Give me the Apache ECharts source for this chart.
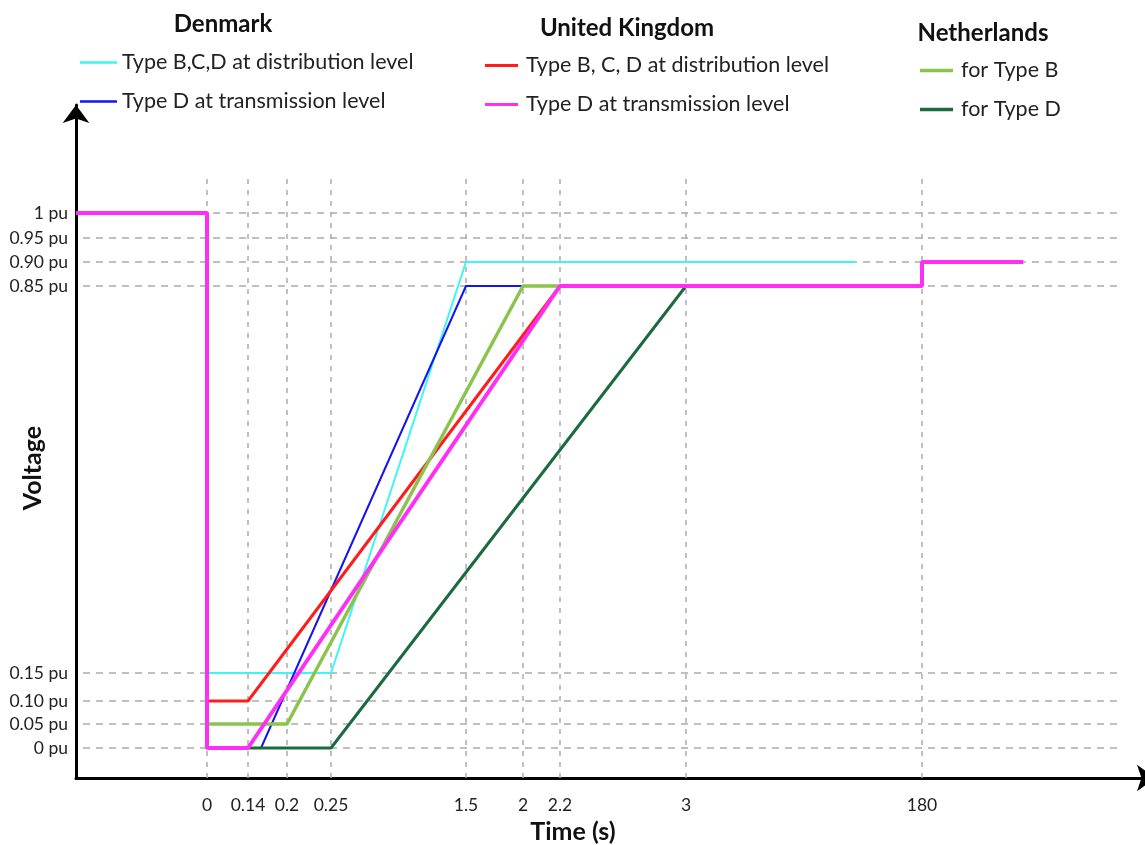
<!DOCTYPE html>
<html>
<head>
<meta charset="utf-8">
<script src="https://cdn.jsdelivr.net/npm/echarts@6/dist/echarts.min.js"></script>
<style>html,body{margin:0;padding:0;background:#fff;}#c{width:1145px;height:845px;}</style>
</head>
<body>
<div id="c"></div>
<script>
// ---- Axis ticks (schematic, non-proportional time axis) ----
var xTickTimes = [0, 0.14, 0.2, 0.25, 1.5, 2, 2.2, 3, 180];
var xTickLabels = ['0', '0.14', '0.2', '0.25', '1.5', '2', '2.2', '3', '180'];
var yTickValues = [0, 0.05, 0.10, 0.15, 0.85, 0.90, 0.95, 1];
var yTickLabels = ['0 pu', '0.05 pu', '0.10 pu', '0.15 pu', '0.85 pu', '0.90 pu', '0.95 pu', '1 pu'];

// ---- Series data: [time (s), voltage (pu)] ----
var dkDistribution = [[-0.45, 1], [0, 1], [0, 0.15], [0.25, 0.15], [1.5, 0.90], [130, 0.90]];
var dkTransmission = [[-0.45, 1], [0, 1], [0, 0], [0.16, 0], [1.5, 0.85], [3, 0.85]];
var ukDistribution = [[-0.45, 1], [0, 1], [0, 0.10], [0.14, 0.10], [2.2, 0.85], [3, 0.85]];
var nlTypeB = [[-0.45, 1], [0, 1], [0, 0.05], [0.2, 0.05], [2, 0.85], [3, 0.85]];
var nlTypeD = [[-0.45, 1], [0, 1], [0, 0], [0.25, 0], [3, 0.85]];
var ukTransmission = [[-0.45, 1], [0, 1], [0, 0], [0.14, 0], [2.2, 0.85], [180, 0.85], [180, 0.90], [256, 0.90]];

// ---- Schematic axis layout (where each tick sits along the axis) ----
var xTickSlots = [131, 172, 211, 255, 390, 447, 484, 610, 846];
var yTickSlots = [30, 54, 77, 105, 492, 516, 540, 565];
var X_MAX = 1079, Y_MAX = 673;

function interp(v, keys, slots) {
  var n = keys.length, i;
  if (v <= keys[0]) i = 0;
  else if (v >= keys[n - 1]) i = n - 2;
  else { for (i = 0; i < n - 1; i++) if (v >= keys[i] && v <= keys[i + 1]) break; }
  var k0 = keys[i], k1 = keys[i + 1], s0 = slots[i], s1 = slots[i + 1];
  return s0 + (v - k0) * (s1 - s0) / (k1 - k0);
}
function toX(t) { return Math.max(0, Math.min(X_MAX, interp(t, xTickTimes, xTickSlots))); }
function toY(u) { return interp(u, yTickValues, yTickSlots); }
function mapData(arr) { return arr.map(function (p) { return [toX(p[0]), toY(p[1])]; }); }

// dashed reference lines at every tick
var gridLines = [];
yTickSlots.forEach(function (s) { gridLines.push({ coords: [[7, s], [1044, s]] }); });
var vLines = [];
xTickSlots.forEach(function (s) { vLines.push({ coords: [[s, 0], [s, 601]] }); });

var FONT = 'Lato';
function lineSeries(name, data, color, width) {
  return {
    name: name, type: 'line', data: mapData(data), symbol: 'none', z: 3,
    lineStyle: { color: color, width: width }, itemStyle: { color: color },
    emphasis: { disabled: true }, animation: false
  };
}

var chart = echarts.init(document.getElementById('c'), null, { renderer: 'canvas' });
function legend(left, top, w, h, pad, data) {
  return {
    orient: 'vertical', left: left, top: top, icon: 'rect',
    itemWidth: w, itemHeight: h, itemGap: 17,
    textStyle: { fontFamily: FONT, fontSize: 21.5, color: '#222', lineHeight: 21, padding: [0, 0, 0, pad] },
    selectedMode: false, data: data,
    formatter: function (n) { return n.split(' | ')[1]; }
  };
}
chart.setOption({
  backgroundColor: '#fff',
  animation: false,
  grid: { left: 76, right: -10, top: 105, bottom: 67, containLabel: false, outerBoundsMode: 'none' },
  graphic: [
    { type: 'text', x: 223, y: 24, style: { text: 'Denmark', font: 'bold 24px ' + FONT, fill: '#111', textAlign: 'center', textVerticalAlign: 'middle' } },
    { type: 'text', x: 627, y: 28, style: { text: 'United Kingdom', font: 'bold 24px ' + FONT, fill: '#111', textAlign: 'center', textVerticalAlign: 'middle' } },
    { type: 'text', x: 983, y: 33, style: { text: 'Netherlands', font: 'bold 24px ' + FONT, fill: '#111', textAlign: 'center', textVerticalAlign: 'middle' } }
  ],
  legend: [
    legend(75, 46.5, 37, 2.5, 0, ['Denmark | Type B,C,D at distribution level', 'Denmark | Type D at transmission level']),
    legend(480, 49.5, 33, 3, 3, ['United Kingdom | Type B, C, D at distribution level', 'United Kingdom | Type D at transmission level']),
    legend(915, 54.5, 33, 3.5, 3, ['Netherlands | for Type B', 'Netherlands | for Type D'])
  ],
  xAxis: {
    type: 'value', min: 0, max: X_MAX,
    name: 'Time (s)', nameLocation: 'middle', nameGap: 41, nameMoveOverlap: false,
    nameTextStyle: { fontFamily: FONT, fontSize: 25, fontWeight: 'bold', color: '#111', padding: [0, 85, 0, 0] },
    axisLine: { lineStyle: { color: '#000', width: 3 }, symbol: ['none', 'arrow'], symbolSize: [20, 18] },
    axisTick: { show: false }, splitLine: { show: false },
    axisLabel: {
      customValues: xTickSlots, margin: 18,
      fontFamily: FONT, fontSize: 17.5, color: '#222',
      formatter: function (v) { var i = xTickSlots.indexOf(v); return i >= 0 ? xTickLabels[i] : ''; }
    }
  },
  yAxis: {
    type: 'value', min: 0, max: Y_MAX,
    name: 'Voltage', nameLocation: 'middle', nameGap: 31, nameRotate: 90, nameMoveOverlap: false,
    nameTextStyle: { fontFamily: FONT, fontSize: 25, fontWeight: 'bold', color: '#111', padding: [0, 53, 0, 0] },
    axisLine: { lineStyle: { color: '#000', width: 3 }, symbol: ['none', 'arrow'], symbolSize: [20, 18] },
    axisTick: { show: false }, splitLine: { show: false },
    axisLabel: {
      customValues: yTickSlots, margin: 8,
      fontFamily: FONT, fontSize: 17.5, color: '#222',
      formatter: function (v) { var i = yTickSlots.indexOf(v); return i >= 0 ? yTickLabels[i] : ''; }
    }
  },
  series: [
    { type: 'lines', coordinateSystem: 'cartesian2d', silent: true, z: 1, data: gridLines,
      lineStyle: { color: '#ababab', width: 1.5, type: [7, 6], opacity: 1 } },
    { type: 'lines', coordinateSystem: 'cartesian2d', silent: true, z: 1, data: vLines,
      lineStyle: { color: '#ababab', width: 1.5, type: [5, 6], opacity: 1 } },
    lineSeries('Denmark | Type B,C,D at distribution level', dkDistribution, '#3df5f5', 2),
    lineSeries('Denmark | Type D at transmission level', dkTransmission, '#1414f0', 2),
    lineSeries('United Kingdom | Type B, C, D at distribution level', ukDistribution, '#ff1c1c', 3),
    lineSeries('Netherlands | for Type B', nlTypeB, '#8cc34c', 3.5),
    lineSeries('Netherlands | for Type D', nlTypeD, '#1b6b3f', 3),
    lineSeries('United Kingdom | Type D at transmission level', ukTransmission, '#ff2ef5', 4)
  ]
});
</script>
</body>
</html>
